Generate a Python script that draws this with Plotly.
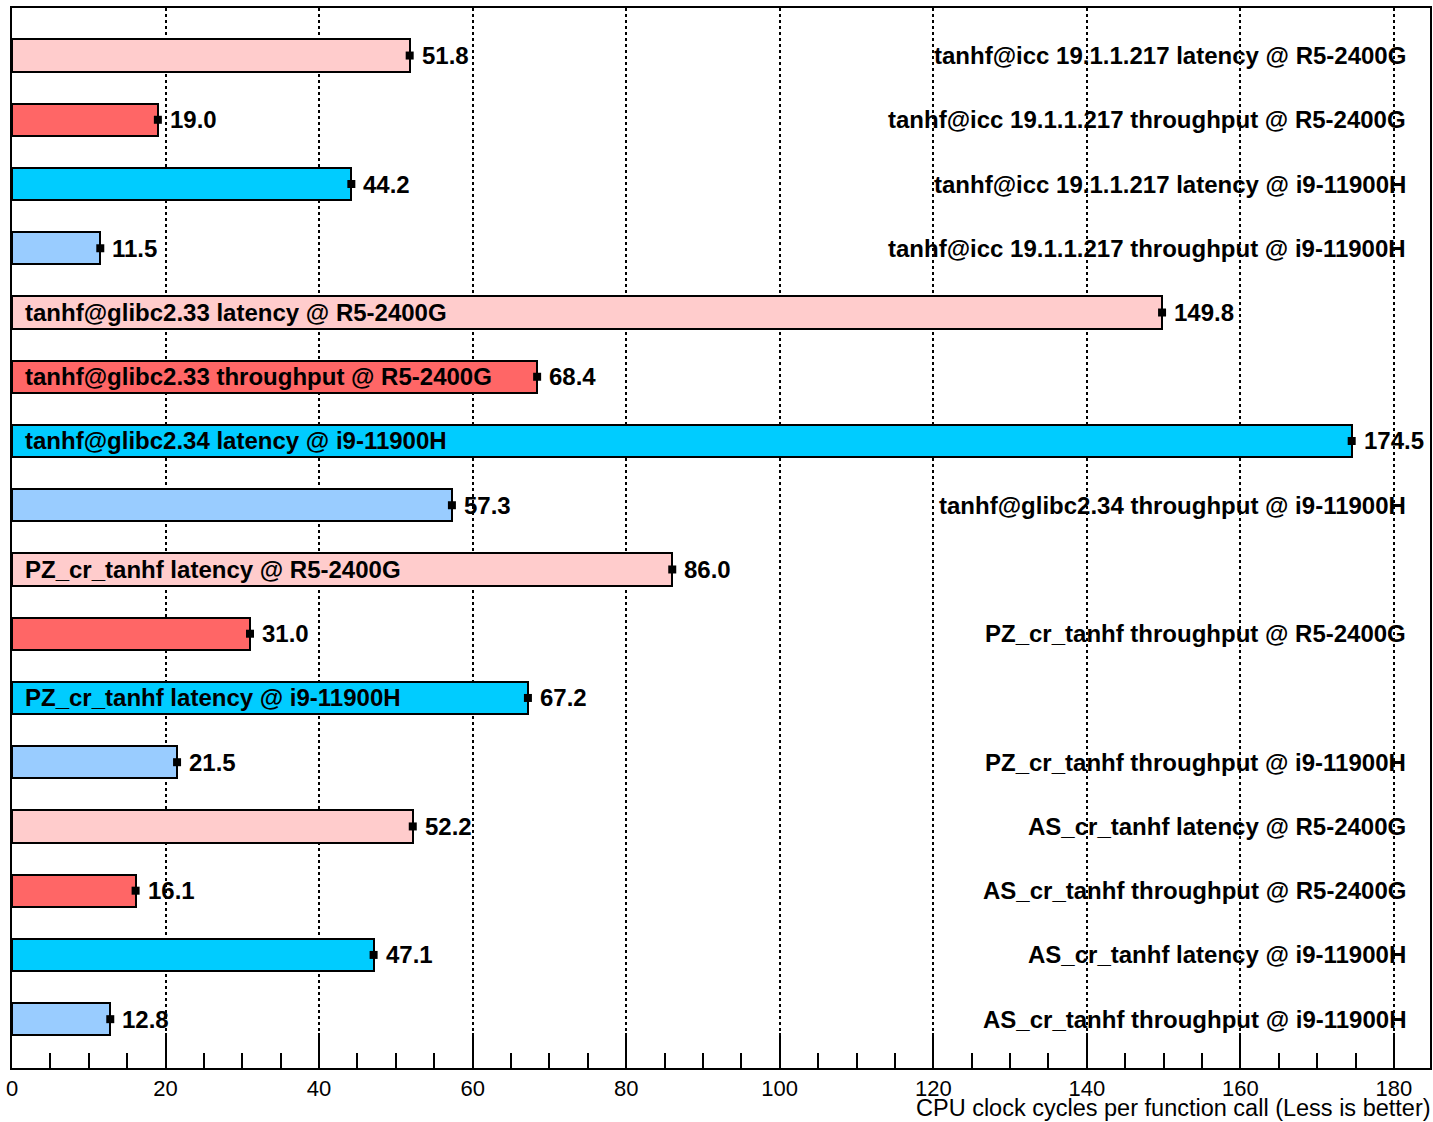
import plotly.graph_objects as go

names = [
    "tanhf@icc 19.1.1.217 latency @ R5-2400G",
    "tanhf@icc 19.1.1.217 throughput @ R5-2400G",
    "tanhf@icc 19.1.1.217 latency @ i9-11900H",
    "tanhf@icc 19.1.1.217 throughput @ i9-11900H",
    "tanhf@glibc2.33 latency @ R5-2400G",
    "tanhf@glibc2.33 throughput @ R5-2400G",
    "tanhf@glibc2.34 latency @ i9-11900H",
    "tanhf@glibc2.34 throughput @ i9-11900H",
    "PZ_cr_tanhf latency @ R5-2400G",
    "PZ_cr_tanhf throughput @ R5-2400G",
    "PZ_cr_tanhf latency @ i9-11900H",
    "PZ_cr_tanhf throughput @ i9-11900H",
    "AS_cr_tanhf latency @ R5-2400G",
    "AS_cr_tanhf throughput @ R5-2400G",
    "AS_cr_tanhf latency @ i9-11900H",
    "AS_cr_tanhf throughput @ i9-11900H",
]
values = [51.8, 19.0, 44.2, 11.5, 149.8, 68.4, 174.5, 57.3,
          86.0, 31.0, 67.2, 21.5, 52.2, 16.1, 47.1, 12.8]
colors_cycle = ["#FFCCCC", "#FF6666", "#00CCFF", "#99CCFF"]
tick_vals = [0, 20, 40, 60, 80, 100, 120, 140, 160, 180]
x_title = "CPU clock cycles per function call (Less is better)"

FONT = "Liberation Sans, Arial, Helvetica, sans-serif"
ypos = list(range(len(values)))
colors = [colors_cycle[i % 4] for i in ypos]

fig = go.Figure()
fig.add_trace(go.Bar(
    x=values, y=ypos, orientation="h", width=0.5,
    marker=dict(color=colors, line=dict(color="black", width=2)),
    hoverinfo="skip", showlegend=False,
))
fig.add_trace(go.Scatter(
    x=values, y=ypos, mode="markers",
    marker=dict(symbol="square", size=8, color="black"),
    showlegend=False, hoverinfo="skip",
))

XMAX = 184.7
LBL = 24
annotations = []
for i, (n, v) in enumerate(zip(names, values)):
    annotations.append(dict(
        x=v, y=i, xref="x", yref="y", text="<b>%.1f</b>" % v,
        showarrow=False, xanchor="left", yanchor="middle", xshift=10,
        font=dict(family=FONT, size=LBL, color="black"),
    ))
    if v > 60:
        annotations.append(dict(
            x=0, y=i, xref="x", yref="y", text="<b>%s</b>" % n,
            showarrow=False, xanchor="left", yanchor="middle", xshift=11,
            font=dict(family=FONT, size=LBL, color="black"),
        ))
    else:
        annotations.append(dict(
            x=1, y=i, xref="paper", yref="y", text="<b>%s</b>" % n,
            showarrow=False, xanchor="right", yanchor="middle", xshift=-22,
            font=dict(family=FONT, size=LBL, color="black"),
        ))
annotations.append(dict(
    x=1, y=0, xref="paper", yref="paper", text=x_title,
    showarrow=False, xanchor="right", yanchor="middle", yshift=-40, xshift=3,
    font=dict(family=FONT, size=23.5, color="black"),
))

fig.update_layout(
    width=1433, height=1122,
    margin=dict(l=12, r=1, t=8, b=54),
    paper_bgcolor="white", plot_bgcolor="white",
    annotations=annotations,
    bargap=0,
)
fig.update_xaxes(
    range=[0, XMAX], tickvals=tick_vals,
    ticks="inside", ticklen=35, tickwidth=2, tickcolor="black",
    showline=True, linecolor="black", linewidth=2, mirror=True,
    showgrid=True, gridcolor="black", griddash="dot", gridwidth=2,
    tickfont=dict(family=FONT, size=22, color="black"),
    minor=dict(dtick=5, ticks="inside", ticklen=15, tickwidth=2,
               tickcolor="black", showgrid=False),
    zeroline=False,
)
fig.update_yaxes(
    range=[15.76, -0.74], showticklabels=False, ticks="",
    showline=True, linecolor="black", linewidth=2, mirror=True,
    showgrid=False, zeroline=False,
)
fig.write_html(
    "out.html",
    config={"displayModeBar": False},
    post_script="document.body.style.margin='0';"
                "document.documentElement.style.overflow='hidden';",
)
